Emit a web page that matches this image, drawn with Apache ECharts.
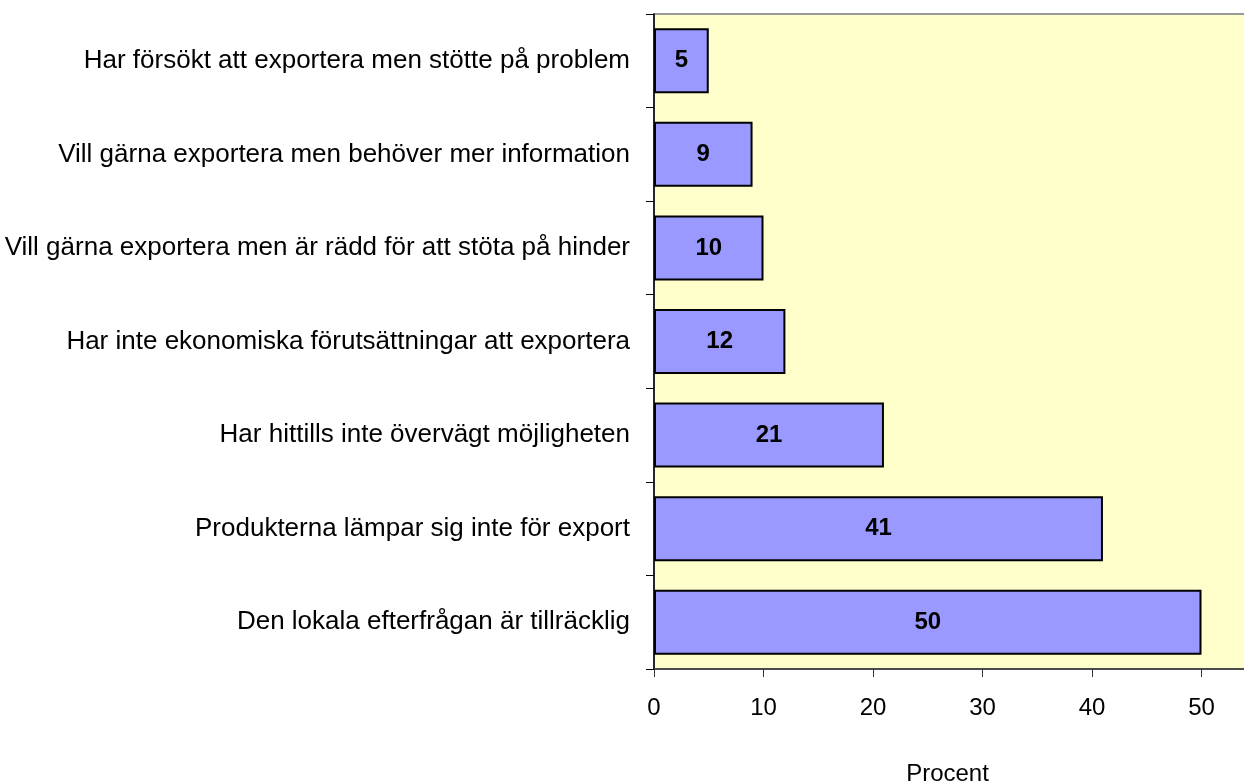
<!DOCTYPE html>
<html>
<head>
<meta charset="utf-8">
<script src="https://cdn.jsdelivr.net/npm/echarts@6/dist/echarts.min.js"></script>
<style>
  html, body { margin: 0; padding: 0; background: #fff; }
  #chart { width: 1244px; height: 784px; }
</style>
</head>
<body>
<div id="chart"></div>
<script>
// kategorier uppifrån och ned
const categories = [
  'Har försökt att exportera men stötte på problem',
  'Vill gärna exportera men behöver mer information',
  'Vill gärna exportera men är rädd för att stöta på hinder',
  'Har inte ekonomiska förutsättningar att exportera',
  'Har hittills inte övervägt möjligheten',
  'Produkterna lämpar sig inte för export',
  'Den lokala efterfrågan är tillräcklig'
];
const values = [5, 9, 10, 12, 21, 41, 50];
const axisName = 'Procent';

const chart = echarts.init(document.getElementById('chart'));
const font = 'Liberation Sans, Arial, sans-serif';

chart.setOption({
  animation: false,
  grid: {
    left: 654,
    top: 14,
    bottom: 115,
    right: -67,
    outerBoundsMode: 'none',
    show: true,
    backgroundColor: '#FFFFCC',
    borderColor: '#999',
    borderWidth: 2
  },
  xAxis: {
    type: 'value',
    min: 0,
    max: 60,
    interval: 10,
    name: axisName,
    nameLocation: 'middle',
    nameGap: 93,
    nameTextStyle: { fontFamily: font, fontSize: 24, color: '#000', padding: [0, 70, 0, 0] },
    axisLine: { show: true, lineStyle: { color: '#333', width: 1.5 } },
    axisTick: { show: true, length: 8, lineStyle: { color: '#333' } },
    axisLabel: { fontFamily: font, fontSize: 24, color: '#000', margin: 27 },
    splitLine: { show: false }
  },
  yAxis: {
    type: 'category',
    inverse: true,
    data: categories,
    axisLine: { show: true, lineStyle: { color: '#000', width: 1.5 } },
    axisTick: { show: true, length: 8, lineStyle: { color: '#000' } },
    axisLabel: { fontFamily: font, fontSize: 26, color: '#000', margin: 24 }
  },
  series: [{
    type: 'bar',
    data: values,
    barWidth: 65,
    itemStyle: { color: '#9999FF', borderColor: '#000', borderWidth: 2 },
    label: {
      show: true,
      position: 'inside',
      fontFamily: font,
      fontSize: 24,
      fontWeight: 'bold',
      color: '#000'
    }
  }]
});
</script>
</body>
</html>
